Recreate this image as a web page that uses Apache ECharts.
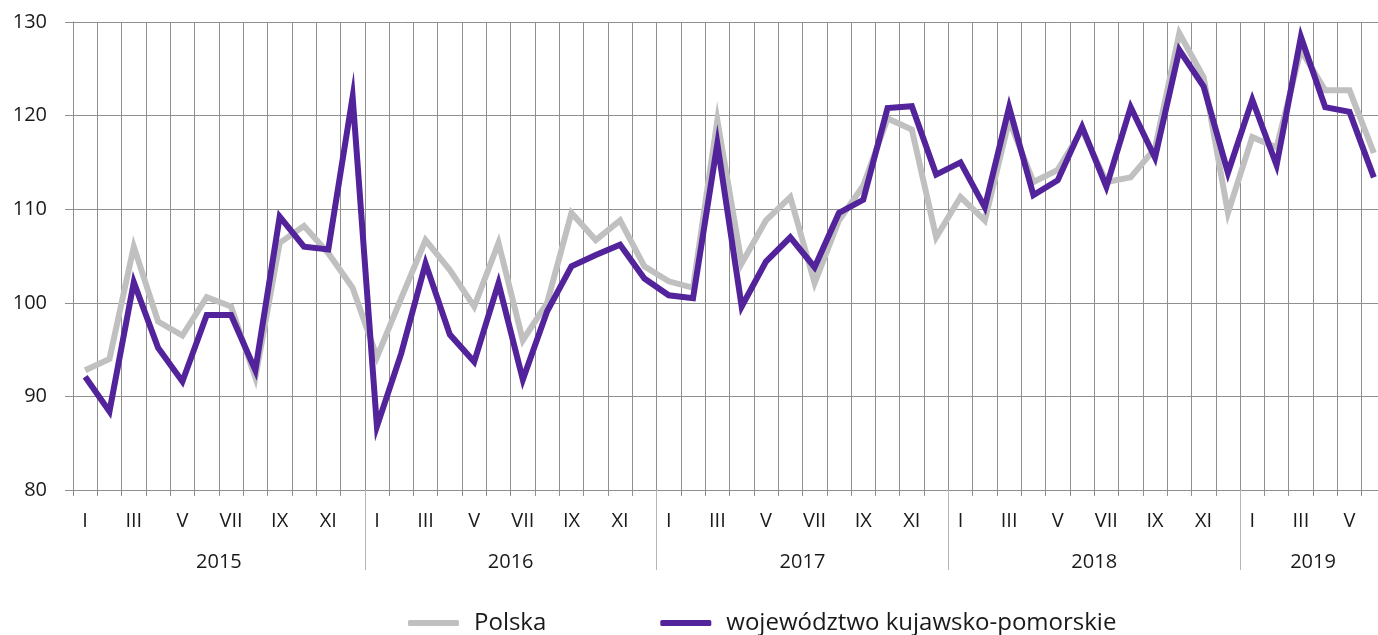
<!DOCTYPE html>
<html>
<head>
<meta charset="utf-8">
<script src="https://cdn.jsdelivr.net/npm/echarts@6/dist/echarts.min.js"></script>
<style>
  html, body { margin: 0; padding: 0; background: #fff; overflow: hidden; }
  #chart { width: 1400px; height: 635px; }
</style>
</head>
<body>
<div id="chart"></div>
<script>
const years = ["2015", "2016", "2017", "2018", "2019"];
const monthsPerYear = [12, 12, 12, 12, 6];
const monthNames = ["I", "II", "III", "IV", "V", "VI", "VII", "VIII", "IX", "X", "XI", "XII"];
const yTicks = [80, 90, 100, 110, 120, 130];

const polska = [
  92.8, 94.0, 106.0, 98.0, 96.5, 100.6, 99.6, 92.0, 106.4, 108.2, 105.3, 101.6,
  94.2, 100.5, 106.7, 103.5, 99.6, 106.4, 96.0, 100.0, 109.6, 106.7, 108.8, 103.9,
  102.3, 101.6, 119.5, 104.2, 108.8, 111.3, 102.1, 108.8, 112.5, 119.7, 118.5, 107.0,
  111.3, 108.8, 119.5, 112.9, 114.2, 118.5, 112.9, 113.4, 116.5, 128.8, 124.1, 109.6,
  117.7, 116.6, 127.0, 122.7, 122.7, 116.0
];
const kujawskoPomorskie = [
  92.1, 88.4, 102.2, 95.2, 91.6, 98.7, 98.7, 92.8, 109.2, 106.0, 105.7, 122.0,
  86.8, 94.6, 104.2, 96.6, 93.7, 102.1, 91.8, 99.1, 103.9, 105.1, 106.2, 102.6,
  100.8, 100.5, 117.0, 99.6, 104.4, 107.0, 103.8, 109.6, 111.0, 120.8, 121.0, 113.7,
  115.0, 110.2, 120.9, 111.5, 113.1, 118.8, 112.4, 120.9, 115.5, 127.0, 123.1, 113.9,
  121.7, 114.7, 128.4, 120.9, 120.4, 113.4
];

// month categories and year boundaries built from the lists above
const categories = [];
const yearBounds = [];
const yearMids = [];
let count = 0;
monthsPerYear.forEach((n, y) => {
  for (let m = 0; m < n; m++) categories.push(monthNames[m]);
  yearMids.push(count + n / 2);
  count += n;
  if (y < monthsPerYear.length - 1) yearBounds.push(count);
});

const font = "'Open Sans', sans-serif";
const gridColor = "#8f8f8f";

// the plot runs a little past the right edge of the window, like the original
const myChart = echarts.init(document.getElementById("chart"));
const option = {
  animation: false,
  textStyle: { fontFamily: font },
  grid: { left: 73, top: 22, width: 1313, height: 468 },
  legend: {
    left: 403,
    top: 606,
    itemWidth: 51,
    itemHeight: 6,
    itemGap: 114,
    icon: "roundRect",
    textStyle: { fontSize: 24, color: "#1a1a1a", fontFamily: font, padding: [0, 0, 0, 10] },
    data: ["Polska", "województwo kujawsko-pomorskie"]
  },
  xAxis: [
    {
      type: "category",
      data: categories,
      boundaryGap: true,
      axisLine: { show: true, lineStyle: { color: gridColor } },
      axisTick: { show: true, interval: 0, length: 6, lineStyle: { color: gridColor } },
      axisLabel: {
        interval: (i) => i % 2 === 0,
        margin: 21,
        fontSize: 20,
        color: "#1a1a1a",
        fontFamily: font
      },
      splitLine: { show: true, interval: 0, lineStyle: { color: gridColor, width: 1 } }
    },
    {
      type: "value",
      position: "bottom",
      min: 0,
      max: categories.length,
      axisLine: { show: false },
      axisTick: {
        show: true,
        customValues: yearBounds,
        length: 80,
        lineStyle: { color: "#b5b5b5" }
      },
      axisLabel: {
        customValues: yearMids,
        formatter: (v) => years[yearMids.indexOf(v)] || "",
        margin: 62,
        fontSize: 20,
        color: "#1a1a1a",
        fontFamily: font
      },
      splitLine: { show: false }
    }
  ],
  yAxis: {
    type: "value",
    min: yTicks[0],
    max: yTicks[yTicks.length - 1],
    interval: 10,
    axisLine: { show: true, lineStyle: { color: gridColor } },
    axisTick: { show: true, length: 8, lineStyle: { color: gridColor } },
    axisLabel: { margin: 26, fontSize: 20, color: "#1a1a1a", fontFamily: font },
    splitLine: { show: true, lineStyle: { color: gridColor, width: 1 } }
  },
  series: [
    {
      name: "Polska",
      type: "line",
      data: polska,
      symbol: "none",
      lineStyle: { color: "#c0c0c0", width: 6, join: "miter" },
      itemStyle: { color: "#c0c0c0" }
    },
    {
      name: "województwo kujawsko-pomorskie",
      type: "line",
      data: kujawskoPomorskie,
      symbol: "none",
      lineStyle: { color: "#52239a", width: 6, join: "miter" },
      itemStyle: { color: "#52239a" }
    }
  ]
};
myChart.setOption(option);
</script>
</body>
</html>
